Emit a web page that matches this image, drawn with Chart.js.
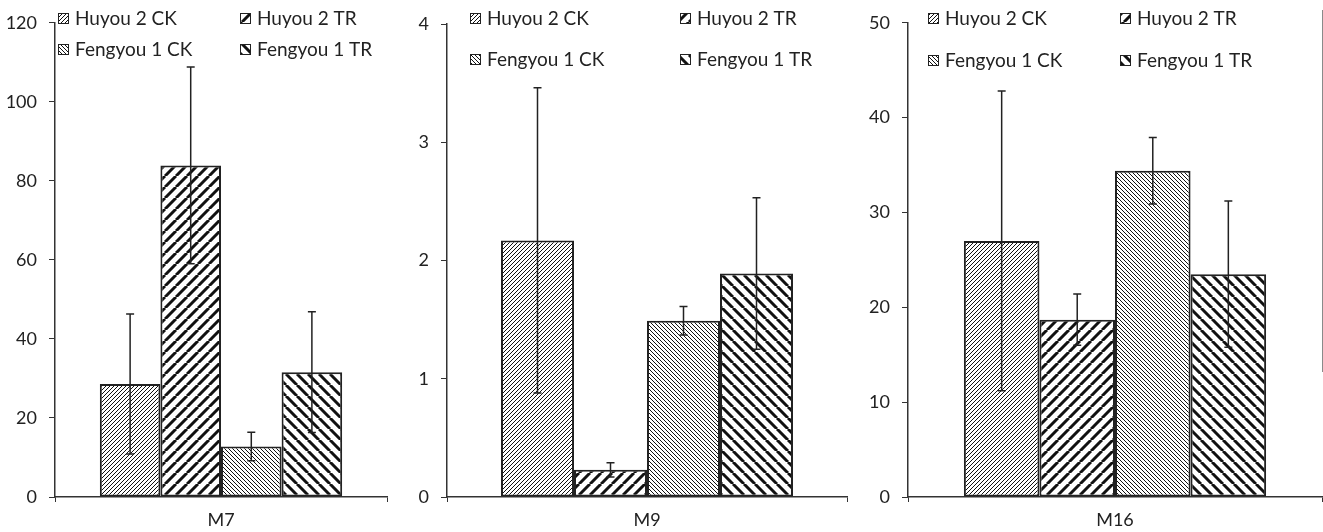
<!DOCTYPE html>
<html>
<head>
<meta charset="utf-8">
<script src="https://cdn.jsdelivr.net/npm/chart.js@4/dist/chart.umd.min.js"></script>
<style>
  html, body { margin: 0; padding: 0; background: #fff; }
  body { width: 1323px; height: 532px; position: relative; overflow: hidden; }
  .panel { position: absolute; top: 0; height: 532px; }
  .stray { position: absolute; left: 1322px; top: 10px; width: 1px; height: 362px; background: #8a8a8a; }
</style>
</head>
<body>
<div class="panel" id="p0" style="left:0px;width:392px"><canvas id="c0"></canvas></div>
<div class="panel" id="p1" style="left:392px;width:468px"><canvas id="c1"></canvas></div>
<div class="panel" id="p2" style="left:860px;width:463px"><canvas id="c2"></canvas></div>
<div class="stray"></div>
<script>
// ---- data ----
const categories = ['M7', 'M9', 'M16'];
const seriesNames = ['Huyou 2 CK', 'Huyou 2 TR', 'Fengyou 1 CK', 'Fengyou 1 TR'];
const huyou2CK = [28.6, 2.17, 27.0];
const huyou2CKErr = [17.7, 1.29, 15.8];
const huyou2TR = [83.9, 0.23, 18.7];
const huyou2TRErr = [24.9, 0.06, 2.7];
const fengyou1CK = [12.8, 1.49, 34.4];
const fengyou1CKErr = [3.6, 0.12, 3.5];
const fengyou1TR = [31.6, 1.89, 23.5];
const fengyou1TRErr = [15.3, 0.64, 7.7];
const yMax = [120, 4, 50];
const yStep = [20, 1, 10];

// ---- layout (styles only) ----
const panelLayout = [
  { axisW: 55, padTop: 19, padRight: 5, legendX: [3, 185], legendY: [18, 49] },
  { axisW: 55, padTop: 24, padRight: 13, legendX: [23, 233], legendY: [18, 59] },
  { axisW: 48, padTop: 19, padRight: 1, legendX: [20, 212], legendY: [18, 60] }
];

const INK = '#222';
const FONT = 'Lato, "Open Sans", sans-serif';

function hatch(dir, size, lw) {
  const c = document.createElement('canvas');
  c.width = size; c.height = size;
  const x = c.getContext('2d');
  x.fillStyle = '#fff';
  x.fillRect(0, 0, size, size);
  x.strokeStyle = '#111';
  x.lineWidth = lw;
  x.beginPath();
  for (const k of [-size, 0, size]) {
    if (dir > 0) { x.moveTo(k, size); x.lineTo(k + size, 0); }
    else { x.moveTo(k, 0); x.lineTo(k + size, size); }
  }
  x.stroke();
  return x.createPattern(c, 'repeat');
}

const patterns = [
  hatch(1, 4, 1),
  hatch(1, 11, 3),
  hatch(-1, 4, 1),
  hatch(-1, 11, 3)
];

const values = [huyou2CK, huyou2TR, fengyou1CK, fengyou1TR];
const errors = [huyou2CKErr, huyou2TRErr, fengyou1CKErr, fengyou1TRErr];

const errorBarPlugin = {
  id: 'errorBars',
  afterDatasetsDraw(chart) {
    const ctx = chart.ctx;
    const yScale = chart.scales.y;
    ctx.save();
    ctx.strokeStyle = INK;
    ctx.lineWidth = 1.5;
    chart.data.datasets.forEach((ds, di) => {
      const meta = chart.getDatasetMeta(di);
      meta.data.forEach((bar, i) => {
        const v = ds.data[i];
        const e = ds.errors[i];
        const yTop = yScale.getPixelForValue(v + e);
        const yBot = yScale.getPixelForValue(v - e);
        const x = bar.x;
        ctx.beginPath();
        ctx.moveTo(x, yTop); ctx.lineTo(x, yBot);
        ctx.moveTo(x - 4, yTop); ctx.lineTo(x + 4, yTop);
        ctx.moveTo(x - 4, yBot); ctx.lineTo(x + 4, yBot);
        ctx.stroke();
      });
    });
    ctx.restore();
  }
};

const legendPlugin = {
  id: 'gridLegend',
  afterDraw(chart, args, opts) {
    const ctx = chart.ctx;
    const left = chart.chartArea.left;
    ctx.save();
    ctx.font = '19px ' + FONT;
    ctx.textBaseline = 'middle';
    chart.data.datasets.forEach((ds, di) => {
      const col = di % 2, row = Math.floor(di / 2);
      const bx = left + opts.xs[col];
      const by = opts.ys[row];
      ctx.fillStyle = ds.backgroundColor;
      ctx.fillRect(bx, by - 5, 11, 11);
      ctx.strokeStyle = INK;
      ctx.lineWidth = 1;
      ctx.strokeRect(bx + 0.5, by - 4.5, 10, 10);
      ctx.fillStyle = INK;
      ctx.fillText(ds.label, bx + 17, by + 1);
    });
    ctx.restore();
  }
};

categories.forEach((cat, p) => {
  const L = panelLayout[p];
  const datasets = seriesNames.map((name, s) => ({
    label: name,
    data: [values[s][p]],
    errors: [errors[s][p]],
    backgroundColor: patterns[s],
    borderColor: INK,
    borderWidth: 2,
    borderSkipped: false
  }));
  new Chart(document.getElementById('c' + p), {
    type: 'bar',
    data: { labels: [cat], datasets },
    plugins: [errorBarPlugin, legendPlugin],
    options: {
      responsive: true,
      maintainAspectRatio: false,
      animation: false,
      layout: { padding: { top: L.padTop, right: L.padRight, left: 0, bottom: 0 } },
      categoryPercentage: 0.73,
      barPercentage: 1,
      plugins: {
        legend: { display: false },
        tooltip: { enabled: false },
        gridLegend: { xs: L.legendX, ys: L.legendY }
      },
      scales: {
        x: {
          grid: { display: true, drawOnChartArea: false, drawTicks: true, tickLength: 5, color: '#333', offset: true },
          border: { display: true, color: '#333', width: 1.5 },
          ticks: { color: INK, font: { family: FONT, size: 18 }, padding: 7 },
          afterFit: (s) => { s.height = 35; }
        },
        y: {
          min: 0,
          max: yMax[p],
          grid: { display: true, drawOnChartArea: false, drawTicks: true, tickLength: 6, color: '#333' },
          border: { display: true, color: '#333', width: 1.5 },
          ticks: { stepSize: yStep[p], color: INK, font: { family: FONT, size: 18 }, padding: 12 },
          afterFit: (s) => { s.width = L.axisW; }
        }
      }
    }
  });
});
</script>
</body>
</html>
